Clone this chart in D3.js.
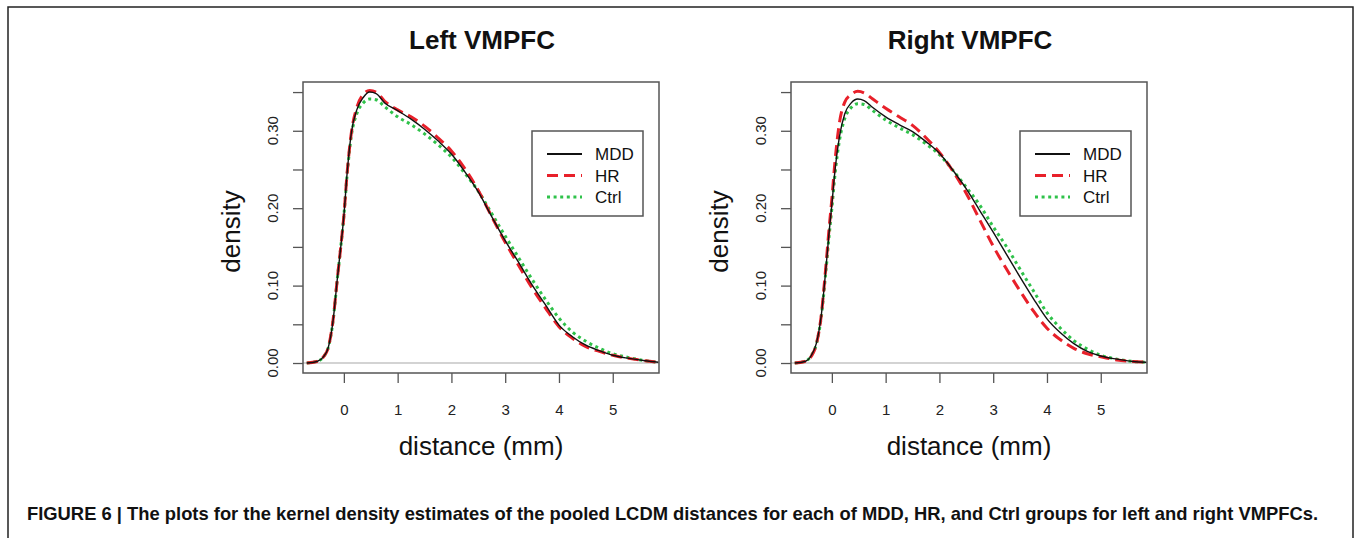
<!DOCTYPE html>
<html>
<head>
<meta charset="utf-8">
<script src="https://cdn.jsdelivr.net/npm/d3@7"></script>
<style>
  body { margin: 0; background: #fff; }
  svg { display: block; font-family: "Liberation Sans", Arial, sans-serif; }
</style>
</head>
<body>
<div id="chart"></div>
<script>
// shared distance grid (mm) used by all six density curves
const xGrid = [-0.69, -0.5, -0.38, -0.29, -0.2, -0.12, -0.05, 0, 0.06, 0.14, 0.24, 0.36, 0.48, 0.6, 0.76,
  1.0, 1.25, 1.5, 1.75, 2.0, 2.25, 2.5, 2.75, 3.0, 3.25, 3.5, 3.75, 4.0, 4.25, 4.5, 4.75, 5.0, 5.3, 5.6, 5.85]

const leftMDD = [0, 0.002, 0.008, 0.02, 0.055, 0.11, 0.155, 0.19, 0.245, 0.298, 0.327, 0.343, 0.350, 0.348, 0.336,
  0.326, 0.315, 0.302, 0.287, 0.270, 0.247, 0.221, 0.189, 0.158, 0.130, 0.101, 0.075, 0.049, 0.034, 0.023, 0.016, 0.010, 0.006, 0.003, 0.001]
const leftHR = [0, 0.002, 0.008, 0.02, 0.056, 0.11, 0.155, 0.19, 0.245, 0.298, 0.330, 0.347, 0.352, 0.350, 0.338,
  0.327, 0.318, 0.306, 0.291, 0.274, 0.251, 0.223, 0.189, 0.156, 0.126, 0.097, 0.071, 0.047, 0.032, 0.021, 0.015, 0.010, 0.006, 0.003, 0.001]
const leftCtrl = [0, 0.002, 0.008, 0.02, 0.055, 0.11, 0.155, 0.19, 0.243, 0.294, 0.322, 0.336, 0.341, 0.340, 0.331,
  0.318, 0.308, 0.296, 0.282, 0.266, 0.245, 0.222, 0.193, 0.164, 0.136, 0.108, 0.082, 0.058, 0.040, 0.028, 0.019, 0.012, 0.007, 0.003, 0.001]

const rightMDD = [0, 0.002, 0.01, 0.025, 0.06, 0.115, 0.17, 0.205, 0.25, 0.292, 0.322, 0.336, 0.341, 0.339, 0.330,
  0.318, 0.308, 0.299, 0.286, 0.271, 0.249, 0.225, 0.197, 0.169, 0.140, 0.111, 0.083, 0.057, 0.039, 0.025, 0.015, 0.009, 0.005, 0.002, 0.001]
const rightHR = [0, 0.002, 0.009, 0.024, 0.06, 0.118, 0.175, 0.212, 0.262, 0.310, 0.337, 0.347, 0.351, 0.349, 0.341,
  0.329, 0.318, 0.307, 0.291, 0.272, 0.248, 0.219, 0.185, 0.151, 0.121, 0.093, 0.067, 0.045, 0.030, 0.019, 0.012, 0.008, 0.004, 0.002, 0.001]
const rightCtrl = [0, 0.002, 0.01, 0.024, 0.058, 0.112, 0.165, 0.2, 0.245, 0.287, 0.316, 0.330, 0.335, 0.334, 0.326,
  0.314, 0.304, 0.295, 0.283, 0.269, 0.249, 0.227, 0.204, 0.176, 0.150, 0.121, 0.093, 0.065, 0.045, 0.029, 0.018, 0.010, 0.005, 0.002, 0.001]

const groups = ['MDD', 'HR', 'Ctrl']
const titles = ['Left VMPFC', 'Right VMPFC']
const xTicks = [0, 1, 2, 3, 4, 5]
const yTicks = [0, 0.05, 0.1, 0.15, 0.2, 0.25, 0.3, 0.35]
const yLabels = [0, 0.1, 0.2, 0.3]
const caption = 'FIGURE 6 | The plots for the kernel density estimates of the pooled LCDM distances for each of MDD, HR, and Ctrl groups for left and right VMPFCs.'

const styles = {
  MDD: { color: '#111', width: 1.4, dash: null },
  HR: { color: '#e8202a', width: 3, dash: '11,6' },
  Ctrl: { color: '#2fc24a', width: 3, dash: '3,3.6' }
}

const W = 1355
const H = 538
const svg = d3.select('#chart').append('svg').attr('width', W).attr('height', H)
svg.append('rect').attr('width', W).attr('height', H).attr('fill', '#fff')

// figure frame (open at the bottom)
svg.append('path')
  .attr('d', `M8,${H + 2}V7H1353V${H + 2}`)
  .attr('fill', 'none').attr('stroke', '#222').attr('stroke-width', 1.5)

const panels = [
  { left: 303, series: [leftMDD, leftHR, leftCtrl] },
  { left: 791, series: [rightMDD, rightHR, rightCtrl] }
]
const pw = 356
const plotTop = 82
const plotBottom = 373

const y = d3.scaleLinear().domain([-0.0129, 0.363]).range([plotBottom, plotTop])

panels.forEach((p, pi) => {
  const x = d3.scaleLinear().domain([-0.76, 5.86]).range([p.left, p.left + pw])
  const g = svg.append('g')

  // zero line
  g.append('line')
    .attr('x1', p.left).attr('x2', p.left + pw)
    .attr('y1', y(0)).attr('y2', y(0))
    .attr('stroke', '#c4c4c4').attr('stroke-width', 1.5)

  const line = d3.line().x((d) => x(d[0])).y((d) => y(d[1])).curve(d3.curveMonotoneX)
  // draw Ctrl first, then HR, then MDD on top
  ;[2, 1, 0].forEach((i) => {
    const s = styles[groups[i]]
    g.append('path')
      .datum(xGrid.map((v, j) => [v, p.series[i][j]]))
      .attr('d', line)
      .attr('fill', 'none')
      .attr('stroke', s.color)
      .attr('stroke-width', s.width)
      .attr('stroke-dasharray', s.dash)
  })

  // box
  g.append('rect')
    .attr('x', p.left).attr('y', plotTop)
    .attr('width', pw).attr('height', plotBottom - plotTop)
    .attr('fill', 'none').attr('stroke', '#555').attr('stroke-width', 1.5)

  // x axis
  const xa = g.append('g')
    .attr('transform', `translate(0,${plotBottom})`)
    .call(d3.axisBottom(x).tickValues(xTicks).tickSize(10).tickPadding(21).tickFormat(d3.format('d')))
  xa.select('.domain').remove()
  xa.selectAll('line').attr('stroke', '#555').attr('stroke-width', 1.3)
  xa.selectAll('text').attr('font-size', 15).attr('font-family', 'Liberation Sans, Arial').attr('fill', '#222')

  // y axis ticks (labels rotated like base R)
  const ya = g.append('g')
    .attr('transform', `translate(${p.left},0)`)
    .call(d3.axisLeft(y).tickValues(yTicks).tickSize(10).tickFormat(''))
  ya.select('.domain').remove()
  ya.selectAll('line').attr('stroke', '#555').attr('stroke-width', 1.3)
  g.selectAll('.ylab').data(yLabels).enter().append('text')
    .attr('transform', (d) => `translate(${p.left - 25},${y(d)}) rotate(-90)`)
    .attr('text-anchor', 'middle')
    .attr('font-size', 15).attr('fill', '#222')
    .text(d3.format('.2f'))

  // axis titles
  g.append('text')
    .attr('transform', `translate(${p.left - 63},${(plotTop + plotBottom) / 2 + 4}) rotate(-90)`)
    .attr('text-anchor', 'middle').attr('font-size', 26).attr('fill', '#111')
    .text('density')
  g.append('text')
    .attr('x', p.left + pw / 2).attr('y', 455)
    .attr('text-anchor', 'middle').attr('font-size', 26).attr('fill', '#111')
    .text('distance (mm)')

  // title
  g.append('text')
    .attr('x', p.left + pw / 2 + 1).attr('y', 49)
    .attr('text-anchor', 'middle').attr('font-size', 26).attr('font-weight', 'bold').attr('fill', '#111')
    .text(titles[pi])

  // legend
  const lx = p.left + pw - 127
  const lg = g.append('g').attr('transform', `translate(${lx},131)`)
  lg.append('rect').attr('width', 111).attr('height', 85)
    .attr('fill', '#fff').attr('stroke', '#555').attr('stroke-width', 1.5)
  groups.forEach((k, i) => {
    const s = styles[k]
    const yy = 23 + i * 21.5
    lg.append('line').attr('x1', 15).attr('x2', 50).attr('y1', yy).attr('y2', yy)
      .attr('stroke', s.color).attr('stroke-width', k === 'MDD' ? 2 : s.width)
      .attr('stroke-dasharray', s.dash)
    lg.append('text').attr('x', 63).attr('y', yy + 6).attr('font-size', 17).attr('fill', '#111').text(k)
  })
})

// caption, squeezed to the reference width
svg.append('text')
  .attr('x', 27).attr('y', 520)
  .attr('font-family', '"Liberation Sans Narrow", "Liberation Sans", Arial, sans-serif')
  .attr('font-size', 18.5).attr('font-weight', 'bold').attr('fill', '#111')
  .attr('textLength', 1291).attr('lengthAdjust', 'spacingAndGlyphs')
  .text(caption)
</script>
</body>
</html>
